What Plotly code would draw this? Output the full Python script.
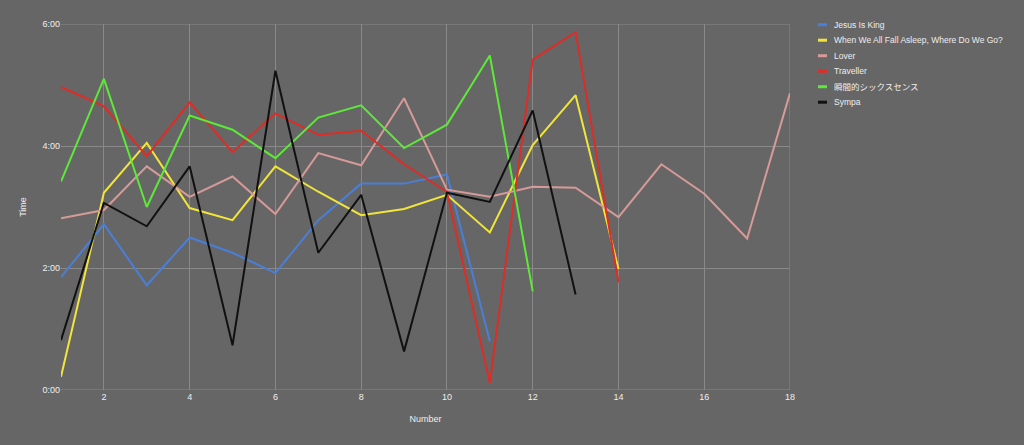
import plotly.graph_objects as go

numbers = list(range(1, 19))

# durations in seconds, indexed by track number
jesus_is_king = [111, 163, 103, 150, 135, 115, 167, 203, 203, 212, 48]
when_we_all = [13, 194, 243, 179, 167, 220, 195, 172, 178, 192, 155, 241, 290, 119]
lover = [169, 177, 220, 190, 210, 173, 233, 221, 287, 197, 190, 200, 199, 170, 222, 193, 149, 292]
traveller = [298, 279, 230, 283, 234, 272, 251, 255, 222, 195, 7, 325, 352, 106]
shunkanteki = [205, 306, 180, 270, 256, 228, 268, 280, 238, 261, 329, 97]
sympa = [49, 184, 161, 220, 44, 314, 135, 192, 38, 194, 185, 275, 94]

series_names = ["Jesus Is King", "When We All Fall Asleep, Where Do We Go?", "Lover",
                "Traveller", "瞬間的シックスセンス", "Sympa"]
series_values = [jesus_is_king, when_we_all, lover, traveller, shunkanteki, sympa]
series_colors = ["#4a7fd8", "#f2e53a", "#d69a98", "#de2c26", "#5ee83a", "#111111"]

y_tickvals = [0, 120, 240, 360]
y_ticktext = ["0:00", "2:00", "4:00", "6:00"]
x_tickvals = [2, 4, 6, 8, 10, 12, 14, 16, 18]

W, H = 1024, 445
ML, MR, MT, MB = 61, 234, 24, 55
PW, PH = W - ML - MR, H - MT - MB

def px_to_paper_x(px):
    return (px - ML) / PW

def px_to_paper_y(py):
    return (H - MB - py) / PH

FONT = "Liberation Sans, Arial, Noto Sans CJK JP, sans-serif"
TXT = "#eeeeee"
grid = "#898989"

fig = go.Figure()
for name, vals, color in zip(series_names, series_values, series_colors):
    fig.add_trace(go.Scatter(
        x=numbers[:len(vals)], y=vals, mode="lines", name=name,
        line=dict(color=color, width=2), showlegend=False,
    ))

shapes = []
annotations = []
# edge grid lines (top/bottom/right) that plotly omits at range edges
shapes.append(dict(type="line", xref="paper", yref="y", x0=0, x1=1, y0=360, y1=360,
                   line=dict(color=grid, width=1), layer="below"))
shapes.append(dict(type="line", xref="paper", yref="y", x0=0, x1=1, y0=0, y1=0,
                   line=dict(color=grid, width=1), layer="below"))
shapes.append(dict(type="line", xref="x", yref="paper", x0=18, x1=18, y0=0, y1=1,
                   line=dict(color=grid, width=1), layer="below"))

# custom legend
leg_y0, leg_dy = 24.7, 15.5
for i, (name, color) in enumerate(zip(series_names, series_colors)):
    yc = leg_y0 + i * leg_dy
    shapes.append(dict(type="line", xref="paper", yref="paper",
                       x0=px_to_paper_x(818), x1=px_to_paper_x(827),
                       y0=px_to_paper_y(yc), y1=px_to_paper_y(yc),
                       line=dict(color=color, width=3)))
    annotations.append(dict(xref="paper", yref="paper", x=px_to_paper_x(832),
                            y=px_to_paper_y(yc), xanchor="left", yanchor="middle",
                            text=name, showarrow=False,
                            font=dict(size=8.5, color=TXT, family=FONT)))

fig.update_layout(
    width=W, height=H,
    paper_bgcolor="#666666", plot_bgcolor="#666666",
    margin=dict(l=ML, r=MR, t=MT, b=MB),
    font=dict(family=FONT, size=9, color=TXT),
    showlegend=False,
    shapes=shapes, annotations=annotations,
    xaxis=dict(range=[1, 18], tickvals=x_tickvals, showgrid=True, gridcolor=grid,
               gridwidth=1, zeroline=False, showline=False, ticks="",
               tickfont=dict(size=9, color=TXT),
               title=dict(text="Number", font=dict(size=9, color=TXT), standoff=14)),
    yaxis=dict(range=[0, 360], tickvals=y_tickvals, ticktext=y_ticktext, showgrid=True,
               gridcolor=grid, gridwidth=1, zeroline=False, showline=False, ticks="",
               tickfont=dict(size=9, color=TXT),
               title=dict(text="Time", font=dict(size=9, color=TXT), standoff=14)),
)

fig.write_html("out.html", config={"displayModeBar": False},
               post_script="document.body.style.margin='0';")
